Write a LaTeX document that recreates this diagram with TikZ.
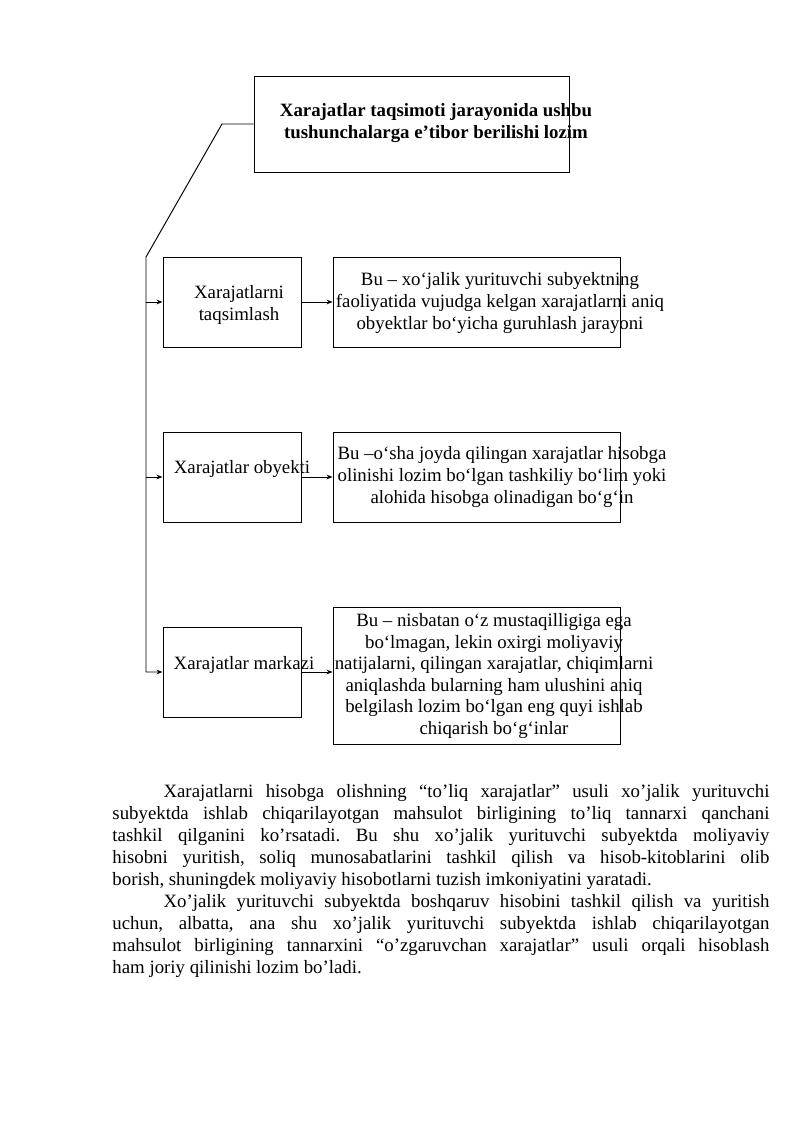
\documentclass[tikz,border=0pt]{standalone}
\usepackage{fontspec}
\setmainfont{Liberation Serif}
\usetikzlibrary{arrows.meta}
\frenchspacing

\tikzset{
  box/.style={draw, line width=0.7pt, inner sep=0pt},
  smallbox/.style={box, minimum width=102.7pt, minimum height=67pt},
  wordbox/.style={box, minimum width=213.5pt, minimum height=67pt},
  boxtext/.style={align=center, inner sep=0pt, font=\fontsize{14}{16}\selectfont},
  para/.style={anchor=north west, inner sep=0pt, text width=488.8pt, align=justify,
    font=\fontsize{14}{16.4}\selectfont}
}

\begin{document}
\begin{tikzpicture}[x=0.744pt,y=-0.744pt,>={Stealth[length=4.5pt,width=3.5pt]}, line width=0.7pt]
\useasboundingbox[fill=white] (0,0) rectangle (800,1131);

% heading
\node[box, minimum width=234.4pt, minimum height=71.4pt] (head) at (411.5,124) {};
\node[boxtext, font=\bfseries\fontsize{14}{16}\selectfont] (headtxt) at (436,123) {Xarajatlar taqsimoti jarayonida ushbu\\tushunchalarga e’tibor berilishi lozim};

% left column
\node[smallbox] (tq) at (232,302) {};
\node[boxtext] (tqtxt) at (239,305) {Xarajatlarni\\taqsimlash};
\node[smallbox] (ob) at (232,477) {};
\node[boxtext, anchor=base] (obtxt) at (242,473) {Xarajatlar obyekti};
\node[smallbox] (mk) at (232,672) {};
\node[boxtext, anchor=base] (mktxt) at (244,669) {Xarajatlar markazi};

% right column
\node[wordbox] (tqdef) at (476.5,302) {};
\node[boxtext] (tqdeftxt) at (500,303) {Bu – xo‘jalik yurituvchi subyektning\\faoliyatida vujudga kelgan xarajatlarni aniq\\obyektlar bo‘yicha guruhlash jarayoni};
\node[wordbox] (obdef) at (476.5,477) {};
\node[boxtext] (obdeftxt) at (502,477) {Bu –o‘sha joyda qilingan xarajatlar hisobga\\olinishi lozim bo‘lgan tashkiliy bo‘lim yoki\\alohida hisobga olinadigan bo‘g‘in};
\node[wordbox, minimum height=101.9pt] (mkdef) at (476.5,675.5) {};
\node[boxtext] (mkdeftxt) at (494,676) {Bu – nisbatan o‘z mustaqilligiga ega\\bo‘lmagan, lekin oxirgi moliyaviy\\natijalarni, qilingan xarajatlar, chiqimlarni\\aniqlashda bularning ham ulushini aniq\\belgilash lozim bo‘lgan eng quyi ishlab\\chiqarish bo‘g‘inlar};

% connectors
\coordinate (bend) at (222,124);
\coordinate (spine) at (146,257);
\draw[->] (head.west) -- (bend) -- (spine) -- (spine |- mk.west) -- (mk.west);
\draw[->] (spine |- tq.west) -- (tq.west);
\draw[->] (spine |- ob.west) -- (ob.west);
\draw[->] (tq.east) -- (tqdef.west);
\draw[->] (ob.east) -- (obdef.west);
\draw[->] (mk.east) -- (mk.east -| mkdef.west);

% text below
\node[para] (txt) at (112,784) {\hspace*{38pt}Xarajatlarni hisobga olishning “to’liq xarajatlar” usuli xo’jalik yurituvchi\linebreak
subyektda ishlab chiqarilayotgan mahsulot birligining to’liq tannarxi qanchani\linebreak
tashkil qilganini ko’rsatadi. Bu shu xo’jalik yurituvchi subyektda moliyaviy\linebreak
hisobni yuritish, soliq munosabatlarini tashkil qilish va hisob-kitoblarini olib\linebreak
borish, shuningdek moliyaviy hisobotlarni tuzish imkoniyatini yaratadi.\par
\hspace*{38pt}Xo’jalik yurituvchi subyektda boshqaruv hisobini tashkil qilish va yuritish\linebreak
uchun, albatta, ana shu xo’jalik yurituvchi subyektda ishlab chiqarilayotgan\linebreak
mahsulot birligining tannarxini “o’zgaruvchan xarajatlar” usuli orqali hisoblash\linebreak
ham joriy qilinishi lozim bo’ladi.\par};
\end{tikzpicture}
\end{document}
